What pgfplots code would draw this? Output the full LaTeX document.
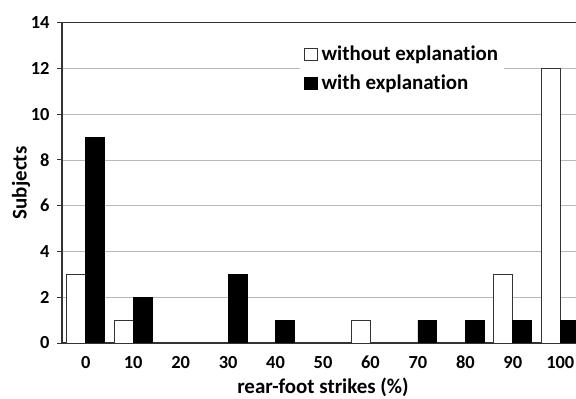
\documentclass[border=0pt]{standalone}
\usepackage{fontspec}
\setmainfont{Carlito}[Ligatures=NoCommon]
\usepackage{pgfplots}
\pgfplotsset{compat=1.18}
\newcommand{\cf}{\fontsize{18.5}{22}\selectfont\bfseries}
\newcommand{\lf}{\fontsize{21}{25}\selectfont\bfseries}
\begin{document}
\begin{tikzpicture}
\begin{axis}[
  name=ax,
  scale only axis,
  width=522bp, height=320.3bp,
  xmin=-0.5, xmax=10.5, ymin=0, ymax=14,
  ybar=0pt, bar width=0.4,
  legend image code/.code={\draw[#1] (0bp,-6.3bp) rectangle (12.6bp,6.3bp); \path[draw=none,fill=none] (0bp,0bp) -- (15bp,0bp);},
  ytick={0,2,...,14},
  xtick={0,...,10},
  xticklabels={0,10,20,30,40,50,60,70,80,90,100},
  major x tick style={draw=none},
  extra x ticks={-0.5,0.5,...,10.5},
  extra x tick labels={},
  extra x tick style={grid=none, major tick length=6bp, tick style={draw=black!80, line width=1bp}},
  tick align=outside,
  major tick length=5bp,
  ytick style={draw=black!80, line width=1bp},
  ymajorgrids,
  grid style={draw=black!28, line width=0.9bp},
  axis line style={draw=black!80, line width=1.1bp},
  /pgf/number format/assume math mode=true,
  tick label style={font=\cf},
  x tick label style={text height=12bp, text depth=0bp, yshift=-5bp},
  y tick label style={xshift=-4bp},
  label style={font=\lf},
  xlabel={rear-foot strikes (\%)},
  ylabel={Subjects},
  xlabel style={at={(axis description cs:0.5,-0.138)}, anchor=center, inner sep=0pt},
  ylabel style={at={(axis description cs:-0.0785,0.5)}, anchor=center},
  legend style={at={(0.456,0.943)}, anchor=north west, draw=none, fill=white,
    font=\lf, row sep=9bp, inner xsep=4bp, inner ysep=3bp},
  legend cell align=left,
]
\addplot[fill=white, draw=black!80, line width=0.8bp] coordinates {(0,3) (1,1) (6,1) (9,3) (10,12)};
\addlegendentry{without explanation}
\addplot[fill=black, draw=black, line width=0.8bp] coordinates {(0,9) (1,2) (3,3) (4,1) (7,1) (8,1) (9,1) (10,1)};
\addlegendentry{with explanation}
\end{axis}
\pgfresetboundingbox
\path[use as bounding box] ([shift={(-62bp,-56bp)}]ax.south west) rectangle ([shift={(514bp,343bp)}]ax.south west);
\end{tikzpicture}
\end{document}
